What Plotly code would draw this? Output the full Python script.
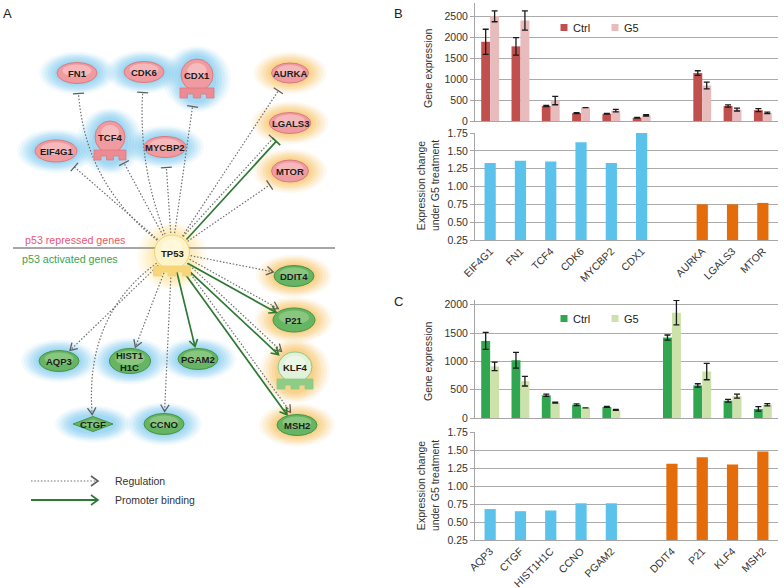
import math
import plotly.graph_objects as go

# ---------------- Panel B data (p53 repressed genes) ----------------
b_genes = ["EIF4G1", "FN1", "TCF4", "CDK6", "MYCBP2", "CDX1", "AURKA", "LGALS3", "MTOR"]
b_halo = ["blue", "blue", "blue", "blue", "blue", "blue", "orange", "orange", "orange"]
b_ctrl = [1900, 1790, 360, 190, 175, 80, 1150, 360, 260]
b_ctrl_err = [300, 210, 15, 10, 10, 8, 55, 25, 35]
b_g5 = [2510, 2410, 490, 320, 250, 135, 850, 275, 195]
b_g5_err = [130, 230, 100, None, 30, 15, 80, 35, 20]
b_ratio = [1.33, 1.36, 1.35, 1.62, 1.33, 1.76, 0.75, 0.75, 0.77]

# ---------------- Panel C data (p53 activated genes) ----------------
c_genes = ["AQP3", "CTGF", "HIST1H1C", "CCNO", "PGAM2", "DDIT4", "P21", "KLF4", "MSH2"]
c_halo = ["blue", "blue", "blue", "blue", "blue", "orange", "orange", "orange", "orange"]
c_ctrl = [1360, 1020, 400, 235, 195, 1420, 575, 305, 160]
c_ctrl_err = [150, 140, 20, 15, 8, 45, 30, 25, 40]
c_g5 = [910, 650, 270, 180, 145, 1860, 820, 385, 235]
c_g5_err = [75, 85, 8, None, 8, 215, 145, 35, 20]
c_ratio = [0.68, 0.65, 0.66, 0.76, 0.76, 1.31, 1.40, 1.30, 1.48]
series_names = ["Ctrl", "G5"]

# ---------------- Panel A network ----------------
hub = "TP53"
repressed = ["FN1", "CDK6", "CDX1", "EIF4G1", "TCF4", "MYCBP2", "AURKA", "LGALS3", "MTOR"]
activated = ["DDIT4", "P21", "AQP3", "HIST1H1C", "PGAM2", "KLF4", "CTGF", "CCNO", "MSH2"]
node_halo = {"FN1": "blue", "CDK6": "blue", "CDX1": "blue", "EIF4G1": "blue", "TCF4": "blue",
             "MYCBP2": "blue", "AURKA": "orange", "LGALS3": "orange", "MTOR": "orange",
             "DDIT4": "orange", "P21": "orange", "KLF4": "orange", "MSH2": "orange",
             "AQP3": "blue", "HIST1H1C": "blue", "PGAM2": "blue", "CTGF": "blue", "CCNO": "blue"}
node_label = {"HIST1H1C": "HIST1<br>H1C"}
# edge types: regulation (dotted) and/or promoter binding (solid)
edges_regulation = ["FN1", "CDK6", "CDX1", "EIF4G1", "TCF4", "MYCBP2", "AURKA", "LGALS3", "MTOR",
                    "DDIT4", "P21", "KLF4", "MSH2", "AQP3", "HIST1H1C", "CTGF", "CCNO"]
edges_binding = ["LGALS3", "P21", "KLF4", "MSH2", "PGAM2"]
legend_items = ["Regulation", "Promoter binding"]
side_labels = ["p53 repressed genes", "p53 activated genes"]

# ---------------- layout (positions / styles) ----------------
node_pos = {
    "FN1": (77, 73), "CDK6": (144, 72), "CDX1": (197, 75), "AURKA": (290, 73),
    "LGALS3": (290, 123), "MTOR": (290, 171), "EIF4G1": (56, 151), "TCF4": (110, 137),
    "MYCBP2": (165, 147), "TP53": (172, 252), "DDIT4": (294, 276), "P21": (294, 320),
    "AQP3": (59, 361), "HIST1H1C": (130, 361), "PGAM2": (198, 359), "KLF4": (295, 367),
    "CTGF": (93, 424), "CCNO": (164, 424), "MSH2": (297, 425),
}
node_size = {n: (20, 10.5) for n in node_pos}
node_size.update({"EIF4G1": (21, 11), "MYCBP2": (21, 10.5), "LGALS3": (20.5, 10.5),
                  "AURKA": (18.5, 10), "MTOR": (18.5, 11), "HIST1H1C": (20.5, 12.5),
                  "P21": (21, 12), "CTGF": (20, 7.5)})
receptor = {"CDX1": (16, 16), "TCF4": (15, 16), "KLF4": (17, 15), "TP53": (17.5, 17)}
diamond = ["CTGF"]
curv = {"FN1": -0.22, "CDK6": -0.11, "CTGF": 0.28}

FONT = "Arial, Liberation Sans, sans-serif"
GRAY_LINE = "#6e6e6e"
GREEN_LINE = "#2c7a33"
DOT = "1.5px,1.8px"
shapes = []
annos = []


def unit(dx, dy):
    L = math.hypot(dx, dy)
    return dx / L, dy / L


def ell_r(ux, uy, rx, ry):
    return 1.0 / math.sqrt((ux / rx) ** 2 + (uy / ry) ** 2)


def eff_size(n):
    if n in receptor:
        rx, ry = receptor[n]
        return rx, ry + 6
    return node_size[n]


def add_shape(**kw):
    kw.setdefault("xref", "x")
    kw.setdefault("yref", "y")
    shapes.append(kw)


# ---- glows ----
halo_col = {"blue": "#7fcaf0", "orange": "#f8c465"}
glow_steps = [(18, 11, 0.1), (15, 9, 0.13), (12, 7.5, 0.16), (9, 6, 0.2), (6, 4, 0.25), (3, 2, 0.3)]
for n, (cx, cy) in node_pos.items():
    col = "#fde6a0" if n == hub else halo_col[node_halo[n]]
    rx, ry = eff_size(n)
    cyy = cy + (4 if n in receptor else 0)
    for grow_x, grow_y, op in glow_steps:
        add_shape(type="circle", x0=cx - rx - grow_x, x1=cx + rx + grow_x,
                  y0=cyy - ry - grow_y, y1=cyy + ry + grow_y,
                  fillcolor=col, opacity=op, line=dict(width=0), layer="below")

# separator line
add_shape(type="line", x0=13, x1=335, y0=248, y1=248, line=dict(color="#8a8a8a", width=1.5))


# ---- edges ----
def edge(tgt, kind, solid, offset):
    sx, sy = node_pos[hub]
    tx, ty = node_pos[tgt]
    ux, uy = unit(tx - sx, ty - sy)
    L = math.hypot(tx - sx, ty - sy)
    px, py = -uy, ux
    k = curv.get(tgt, 0.0)
    cx = (sx + tx) / 2 + px * k * L
    cy = (sy + ty) / 2 + py * k * L
    ex, ey = unit(tx - cx, ty - cy)
    bx, by = unit(cx - sx, cy - sy)
    rx, ry = eff_size(tgt)
    gap = ell_r(ex, ey, rx, ry) + (10 if kind == "inhibit" else 2)
    endx, endy = tx - ex * gap, ty - ey * gap
    r0 = 19
    stx, sty = sx + bx * r0, sy + by * r0
    ox, oy = px * offset, py * offset
    stx += ox; sty += oy; endx += ox; endy += oy; cx += ox; cy += oy
    color = GREEN_LINE if solid else GRAY_LINE
    line = dict(color=color, width=1.7 if solid else 1.2, dash="solid" if solid else DOT)
    if k:
        add_shape(type="path", path=f"M{stx:.1f},{sty:.1f} Q{cx:.1f},{cy:.1f} {endx:.1f},{endy:.1f}", line=line)
    else:
        add_shape(type="line", x0=stx, y0=sty, x1=endx, y1=endy, line=line)
    hl = dict(color=color if solid else "#5f5f5f", width=1.6 if solid else 1.3)
    if kind == "inhibit":
        qx, qy = -ey, ex
        add_shape(type="line", x0=endx - qx * 5.5, y0=endy - qy * 5.5,
                  x1=endx + qx * 5.5, y1=endy + qy * 5.5, line=hl)
    else:
        a = math.radians(32)
        arms = []
        for s in (1, -1):
            rxv = ex * math.cos(s * a) - ey * math.sin(s * a)
            ryv = ex * math.sin(s * a) + ey * math.cos(s * a)
            arms.append((endx - rxv * 8, endy - ryv * 8))
        add_shape(type="path",
                  path=f"M{arms[0][0]:.1f},{arms[0][1]:.1f} L{endx:.1f},{endy:.1f} L{arms[1][0]:.1f},{arms[1][1]:.1f}",
                  line=hl)


for t in edges_regulation:
    kind = "inhibit" if t in repressed else "activate"
    off = -2.2 if t in edges_binding else 0
    edge(t, kind, False, off)
for t in edges_binding:
    kind = "inhibit" if t in repressed else "activate"
    off = 2.2 if t in edges_regulation else 0
    edge(t, kind, True, off)


# ---- nodes ----
def receptor_shapes(n, fill, line_col, base_col, hi):
    cx, cy = node_pos[n]
    rx, ry = receptor[n]
    add_shape(type="circle", x0=cx - rx, x1=cx + rx, y0=cy - ry, y1=cy + ry,
              fillcolor=fill, line=dict(color=line_col, width=1))
    add_shape(type="circle", x0=cx - rx * 0.6, x1=cx + rx * 0.6, y0=cy - ry * 0.75, y1=cy + ry * 0.2,
              fillcolor=hi, opacity=0.6, line=dict(width=0))
    w = 2 * rx + 2
    x0, x1 = cx - w / 2, cx + w / 2
    yt, yb = cy + ry - 3, cy + ry + 7
    f, g = w * 0.22, w * 0.17
    d = 4
    pts = [(x0, yt), (x1, yt), (x1, yb), (x1 - f, yb), (x1 - f, yb - d), (x1 - f - g, yb - d),
           (x1 - f - g, yb), (x0 + f + g, yb), (x0 + f + g, yb - d), (x0 + f, yb - d), (x0 + f, yb), (x0, yb)]
    path = "M" + " L".join(f"{a:.1f},{b:.1f}" for a, b in pts) + " Z"
    add_shape(type="path", path=path, fillcolor=base_col, line=dict(color=line_col, width=0.8))


for n, (cx, cy) in node_pos.items():
    if n == hub:
        receptor_shapes(n, "#fff3c8", "#f0d27a", "#f7d67a", "#fffbe8")
        continue
    if n in repressed:
        fill, lc, hi, base = "#f09ba0", "#d97b81", "#f9d0d1", "#ec8b92"
    else:
        fill, lc, hi, base = "#66b562", "#479245", "#a6d69a", "#7cc47a"
    if n in receptor:
        if n == "KLF4":
            receptor_shapes(n, "#e2f2da", "#8cc785", "#8fcd86", "#f4fbf0")
        else:
            receptor_shapes(n, fill, lc, base, hi)
        continue
    rx, ry = node_size[n]
    if n in diamond:
        add_shape(type="path", path=f"M{cx-rx},{cy} L{cx},{cy-ry} L{cx+rx},{cy} L{cx},{cy+ry} Z",
                  fillcolor=fill, line=dict(color=lc, width=1))
        add_shape(type="path", path=f"M{cx-rx*0.6},{cy} L{cx},{cy-ry*0.6} L{cx+rx*0.6},{cy} L{cx},{cy+ry*0.5} Z",
                  fillcolor=hi, opacity=0.5, line=dict(width=0))
        continue
    add_shape(type="circle", x0=cx - rx, x1=cx + rx, y0=cy - ry, y1=cy + ry,
              fillcolor=fill, line=dict(color=lc, width=1))
    add_shape(type="circle", x0=cx - rx * 0.72, x1=cx + rx * 0.72, y0=cy - ry * 0.8, y1=cy + ry * 0.35,
              fillcolor=hi, opacity=0.55, line=dict(width=0))

for n, (cx, cy) in node_pos.items():
    annos.append(dict(x=cx, y=cy + (1 if n == hub else 0), xref="x", yref="y",
                      text=node_label.get(n, n), showarrow=False,
                      font=dict(family=FONT, size=9.5, color="#1c1c1c", weight="bold"),
                      xanchor="center", yanchor="middle"))

# side labels
annos.append(dict(x=23, y=240, xref="x", yref="y", text=side_labels[0], showarrow=False,
                  xanchor="left", yanchor="middle", font=dict(family=FONT, size=10.7, color="#e95870")))
annos.append(dict(x=20, y=259, xref="x", yref="y", text=side_labels[1], showarrow=False,
                  xanchor="left", yanchor="middle", font=dict(family=FONT, size=10.7, color="#38a54a")))

# legend of panel A
for i, (lab, solid) in enumerate(zip(legend_items, [False, True])):
    yy = 481 + 19 * i
    col = GREEN_LINE if solid else GRAY_LINE
    add_shape(type="line", x0=31, x1=97, y0=yy, y1=yy,
              line=dict(color=col, width=1.8 if solid else 1.2, dash="solid" if solid else DOT))
    add_shape(type="path", path=f"M91,{yy-5} L98,{yy} L91,{yy+5}",
              line=dict(color=col if solid else "#5f5f5f", width=1.6))
    annos.append(dict(x=113, y=yy, xref="x", yref="y", text=lab, showarrow=False,
                      xanchor="left", yanchor="middle", font=dict(family=FONT, size=10.5, color="#333333")))

# ---------------- figure ----------------
fig = go.Figure()
fig.add_trace(go.Scatter(x=[0, 784], y=[0, 588], mode="markers", marker=dict(opacity=0),
                         hoverinfo="skip", showlegend=False, xaxis="x", yaxis="y"))

bar_col = {"blue": "#5bc3eb", "orange": "#e46c0a"}
err_style = dict(type="data", color="#1a1a1a", thickness=1.3, width=3, visible=True)


def with_spacer(genes, halo):
    cats = []
    for i, g in enumerate(genes):
        if i > 0 and halo[i] != halo[i - 1]:
            cats.append(" ")
        cats.append(g)
    return cats


def add_panel(genes, halo, ctrl, ctrl_err, g5, g5_err, ratio, cols, xt, yt, xb, yb, leg_y):
    for name, vals, errs, col in zip(series_names, [ctrl, g5], [ctrl_err, g5_err], cols):
        fig.add_trace(go.Bar(x=genes, y=vals, name=name, marker=dict(color=col, line=dict(width=0)),
                             error_y=dict(array=errs, **err_style), xaxis=xt, yaxis=yt, showlegend=False))
    fig.add_trace(go.Bar(x=genes, y=ratio, marker=dict(color=[bar_col[h] for h in halo], line=dict(width=0)),
                         width=0.37, showlegend=False, xaxis=xb, yaxis=yb))
    # legend (drawn as key squares + text)
    for i, (name, col) in enumerate(zip(series_names, cols)):
        x0 = 560.5 + 51 * i
        add_shape(type="rect", x0=x0, x1=x0 + 7, y0=leg_y - 3.5, y1=leg_y + 3.5, fillcolor=col,
                  line=dict(width=0))
        annos.append(dict(x=x0 + 10, y=leg_y, xref="x", yref="y", text=name, showarrow=False,
                          xanchor="left", yanchor="middle", font=dict(family=FONT, size=11, color="#222")))


add_panel(b_genes, b_halo, b_ctrl, b_ctrl_err, b_g5, b_g5_err, b_ratio, ["#c0504d", "#e8bcbc"],
          "x2", "y2", "x3", "y3", 27.5)
add_panel(c_genes, c_halo, c_ctrl, c_ctrl_err, c_g5, c_g5_err, c_ratio, ["#2fa64f", "#cde1aa"],
          "x4", "y4", "x5", "y5", 318.5)

W, H = 784, 588
XD = [475 / W, 778 / W]
AXC = "#a6a6a6"
tickf = dict(family=FONT, size=10.5, color="#333333")


def xax(cats, labels, anchor):
    return dict(domain=XD, anchor=anchor, type="category", categoryorder="array", categoryarray=cats,
                showticklabels=labels, tickangle=-45, tickfont=tickf, showline=True, linecolor=AXC,
                linewidth=1, showgrid=False, ticks="", fixedrange=True, automargin=False)


def yax(top_px, bot_px, rng, dtick, tick0, fmt, anchor):
    return dict(domain=[1 - bot_px / H, 1 - top_px / H], anchor=anchor, range=rng, dtick=dtick, tick0=tick0,
                tickformat=fmt, showgrid=True, gridcolor="#ababab", gridwidth=1, zeroline=False,
                showline=True, linecolor=AXC, ticks="outside", ticklen=4, tickcolor=AXC, tickfont=tickf,
                automargin=False)


cats_b = with_spacer(b_genes, b_halo)
cats_c = with_spacer(c_genes, c_halo)

title_font = dict(family=FONT, size=10.5, color="#333333")
annos += [
    dict(x=7, y=13, text="A", xref="x", yref="y", showarrow=False, font=dict(family=FONT, size=13, color="#222")),
    dict(x=398, y=13, text="B", xref="x", yref="y", showarrow=False, font=dict(family=FONT, size=13, color="#222")),
    dict(x=398, y=301, text="C", xref="x", yref="y", showarrow=False, font=dict(family=FONT, size=13, color="#222")),
    dict(x=428, y=68, text="Gene expression", textangle=-90, xref="x", yref="y", showarrow=False, font=title_font),
    dict(x=428, y=186, text="Expression change<br>under G5 treatment", textangle=-90, xref="x", yref="y",
         showarrow=False, font=title_font),
    dict(x=428, y=361, text="Gene expression", textangle=-90, xref="x", yref="y", showarrow=False, font=title_font),
    dict(x=428, y=486, text="Expression change<br>under G5 treatment", textangle=-90, xref="x", yref="y",
         showarrow=False, font=title_font),
]

fig.update_layout(
    width=W, height=H, margin=dict(l=0, r=0, t=0, b=0, pad=0, autoexpand=False),
    paper_bgcolor="white", plot_bgcolor="rgba(0,0,0,0)",
    barmode="group", bargap=0.41, bargroupgap=0,
    xaxis=dict(domain=[0, 1], range=[0, W], visible=False, fixedrange=True),
    yaxis=dict(domain=[0, 1], range=[H, 0], visible=False, fixedrange=True),
    xaxis2=xax(cats_b, False, "y2"),
    yaxis2=yax(3, 121, [0, 2830], 500, 0, "d", "x2"),
    xaxis3=xax(cats_b, True, "y3"),
    yaxis3=yax(133, 240, [0.25, 1.75], 0.25, 0.25, ".2f", "x3"),
    xaxis4=xax(cats_c, False, "y4"),
    yaxis4=yax(300, 418, [0, 2083], 500, 0, "d", "x4"),
    xaxis5=xax(cats_c, True, "y5"),
    yaxis5=yax(432, 540, [0.25, 1.75], 0.25, 0.25, ".2f", "x5"),
    shapes=shapes, annotations=annos, showlegend=False,
)

fig.write_html("out.html", config={"displayModeBar": False},
               post_script="document.body.style.margin='0px';document.body.style.overflow='hidden';")
